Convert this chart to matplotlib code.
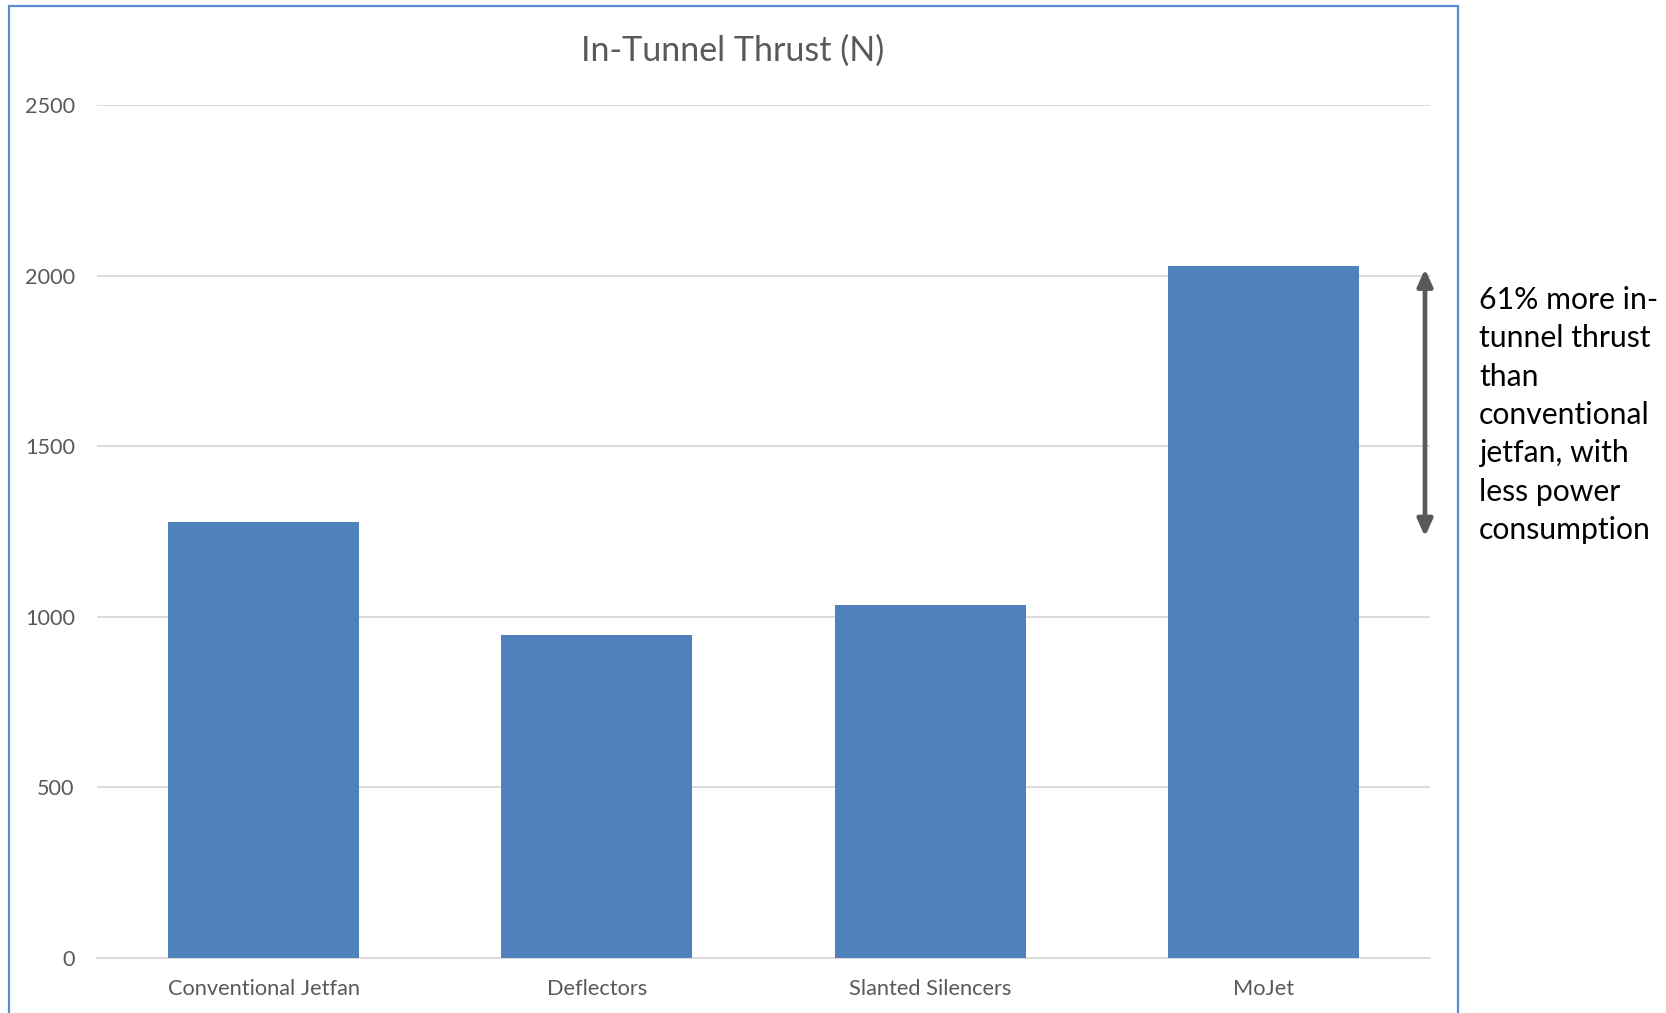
import matplotlib
matplotlib.use("Agg")
import matplotlib.pyplot as plt
from matplotlib.patches import Rectangle

# chart data
categories = ["Conventional Jetfan", "Deflectors", "Slanted Silencers", "MoJet"]
thrust = [1277, 946, 1034, 2028]
y_ticks = [0, 500, 1000, 1500, 2000, 2500]

# annotation arrow (tips in data units)
arrow_low = 1235
arrow_high = 2020
note = "61% more in-\ntunnel thrust\nthan\nconventional\njetfan, with\nless power\nconsumption"

plt.rcParams['font.family'] = ['Lato', 'DejaVu Sans']

BAR = "#4F81BD"
GREY = "#595959"

fig = plt.figure(figsize=(16.66, 10.13), dpi=100)
ax = fig.add_axes([97 / 1666, 1 - 957.7 / 1013, (1430 - 97) / 1666, (957.7 - 105.3) / 1013])

x = range(len(categories))
ax.bar(x, thrust, width=0.573, color=BAR, zorder=3)

ax.set_xlim(-0.5, len(categories) - 0.5)
ax.set_ylim(0, 2500)
ax.set_yticks(y_ticks)
ax.set_xticks(list(x))
ax.set_xticklabels(categories)
ax.yaxis.grid(True, color="#d9d9d9", linewidth=1.3, zorder=0)
ax.tick_params(axis="both", length=0, colors=GREY)
ax.tick_params(axis="y", pad=16, labelsize=15.6)
ax.tick_params(axis="x", pad=15, labelsize=15.7)
for side in ["left", "right", "top"]:
    ax.spines[side].set_visible(False)
ax.spines["bottom"].set_color("#d9d9d9")
ax.spines["bottom"].set_linewidth(1.3)

fig.text(733 / 1666, 1 - 51 / 1013, "In-Tunnel Thrust (N)", ha="center", va="center",
         fontsize=24.5, color=GREY)

# double headed arrow next to the MoJet bar
ax.annotate("", xy=(3.485, arrow_high), xytext=(3.485, arrow_low),
            arrowprops=dict(arrowstyle="<|-|>,head_length=1.0,head_width=0.45",
                            color=GREY, lw=3.4, shrinkA=0, shrinkB=0),
            annotation_clip=False)

fig.text(1479 / 1666, 1 - 415 / 1013, note, ha="left", va="center", fontsize=21.7,
         color="black", linespacing=1.45)

# chart area border
fig.patches.append(Rectangle((8.5 / 1666, -0.2), (1458 - 8.5) / 1666, 1.2 - 6 / 1013,
                             transform=fig.transFigure, fill=False,
                             edgecolor="#5B8BD0", linewidth=1.6))

fig.savefig("out.png", dpi=100)
